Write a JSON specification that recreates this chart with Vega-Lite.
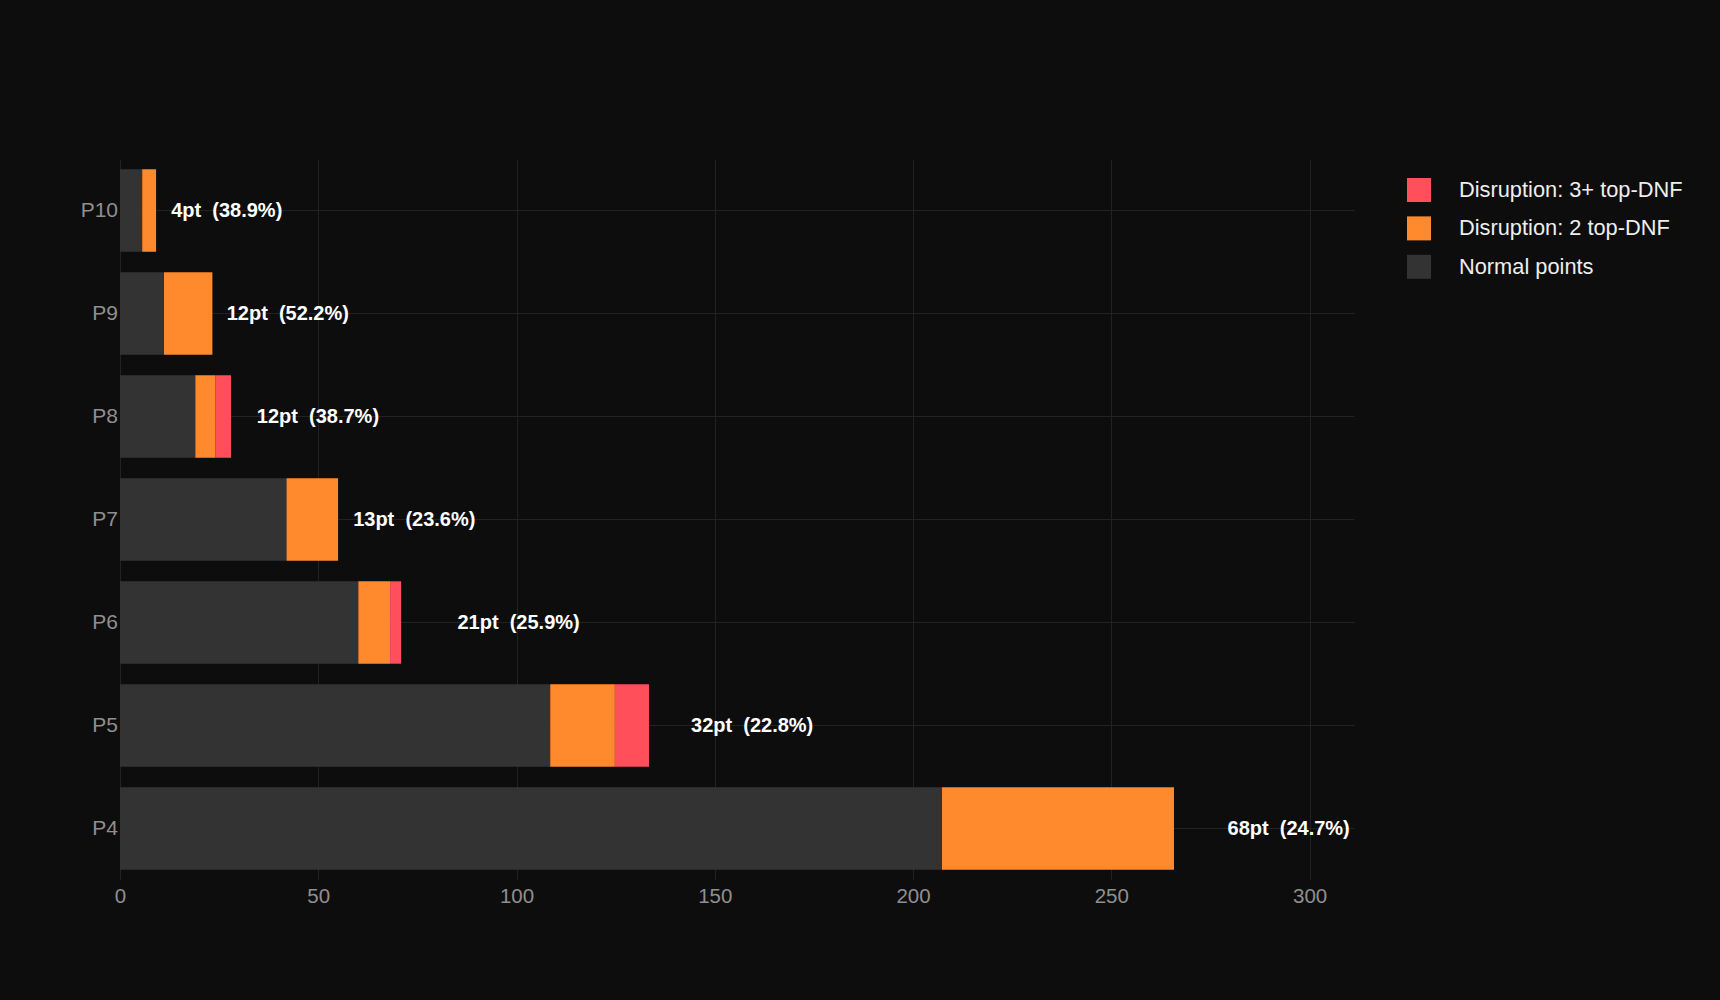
{
  "$schema": "https://vega.github.io/schema/vega-lite/v6.json",
  "width": 1234,
  "height": 721,
  "autosize": {"type": "none"},
  "padding": {"left": 120, "top": 159, "right": 366, "bottom": 120},
  "background": "#0d0d0d",
  "config": {
    "view": {"stroke": null},
    "font": "Liberation Sans"
  },
  "datasets": {
    "bars": [
      {"player": "P10", "type": "Normal points", "ord": 0, "pts": 5.6},
      {"player": "P10", "type": "Disruption: 2 top-DNF", "ord": 1, "pts": 3.5},
      {"player": "P9", "type": "Normal points", "ord": 0, "pts": 11.1},
      {"player": "P9", "type": "Disruption: 2 top-DNF", "ord": 1, "pts": 12.2},
      {"player": "P8", "type": "Normal points", "ord": 0, "pts": 19.0},
      {"player": "P8", "type": "Disruption: 2 top-DNF", "ord": 1, "pts": 5.0},
      {"player": "P8", "type": "Disruption: 3+ top-DNF", "ord": 2, "pts": 4.0},
      {"player": "P7", "type": "Normal points", "ord": 0, "pts": 42.0},
      {"player": "P7", "type": "Disruption: 2 top-DNF", "ord": 1, "pts": 13.0},
      {"player": "P6", "type": "Normal points", "ord": 0, "pts": 60.1},
      {"player": "P6", "type": "Disruption: 2 top-DNF", "ord": 1, "pts": 8.0},
      {"player": "P6", "type": "Disruption: 3+ top-DNF", "ord": 2, "pts": 2.8},
      {"player": "P5", "type": "Normal points", "ord": 0, "pts": 108.5},
      {"player": "P5", "type": "Disruption: 2 top-DNF", "ord": 1, "pts": 16.3},
      {"player": "P5", "type": "Disruption: 3+ top-DNF", "ord": 2, "pts": 8.6},
      {"player": "P4", "type": "Normal points", "ord": 0, "pts": 207.3},
      {"player": "P4", "type": "Disruption: 2 top-DNF", "ord": 1, "pts": 58.5}
    ],
    "labels": [
      {"player": "P10", "lx": 12.9, "label": "4pt\u00a0 (38.9%)"},
      {"player": "P9", "lx": 26.9, "label": "12pt\u00a0 (52.2%)"},
      {"player": "P8", "lx": 34.5, "label": "12pt\u00a0 (38.7%)"},
      {"player": "P7", "lx": 58.8, "label": "13pt\u00a0 (23.6%)"},
      {"player": "P6", "lx": 85.1, "label": "21pt\u00a0 (25.9%)"},
      {"player": "P5", "lx": 144.0, "label": "32pt\u00a0 (22.8%)"},
      {"player": "P4", "lx": 279.3, "label": "68pt\u00a0 (24.7%)"}
    ]
  },
  "layer": [
    {
      "data": {"name": "bars"},
      "mark": {"type": "bar", "cornerRadius": 0},
      "encoding": {
        "y": {
          "field": "player", "type": "nominal",
          "sort": ["P10", "P9", "P8", "P7", "P6", "P5", "P4"],
          "scale": {"paddingInner": 0.2, "paddingOuter": 0.1},
          "axis": {
            "title": null, "domain": false, "ticks": false,
            "labelColor": "#8f8f8f", "labelFontSize": 21, "labelPadding": 2.5,
            "grid": true, "gridColor": "#222222", "gridWidth": 1, "bandPosition": 0.5
          }
        },
        "x": {
          "field": "pts", "type": "quantitative", "stack": "zero",
          "scale": {"domain": [0, 311.2], "nice": false, "zero": true},
          "axis": {
            "title": null, "domain": false, "ticks": false,
            "values": [0, 50, 100, 150, 200, 250, 300],
            "labelFlush": false, "labelOverlap": false,
            "labelColor": "#8f8f8f", "labelFontSize": 20.5, "labelPadding": 6,
            "grid": true, "gridColor": "#222222", "gridWidth": 1
          }
        },
        "color": {
          "field": "type", "type": "nominal",
          "scale": {
            "domain": ["Disruption: 3+ top-DNF", "Disruption: 2 top-DNF", "Normal points"],
            "range": ["#ff4f5a", "#ff8a2e", "#333333"]
          },
          "legend": {
            "title": null, "orient": "none", "legendX": 1287, "legendY": 19, "padding": 0,
            "symbolType": "square", "symbolSize": 576, "symbolStrokeWidth": 0, "symbolOpacity": 1,
            "labelColor": "#eeeeee", "labelFontSize": 21.8, "labelOffset": 28, "labelLimit": 0,
            "rowPadding": 14.4
          }
        },
        "order": {"field": "ord", "type": "quantitative"}
      }
    },
    {
      "data": {"name": "labels"},
      "mark": {"type": "text", "align": "left", "baseline": "middle", "fontWeight": "bold", "fontSize": 20, "color": "#ffffff"},
      "encoding": {
        "y": {"field": "player", "type": "nominal", "sort": ["P10", "P9", "P8", "P7", "P6", "P5", "P4"]},
        "x": {"field": "lx", "type": "quantitative"},
        "text": {"field": "label"}
      }
    }
  ]
}
